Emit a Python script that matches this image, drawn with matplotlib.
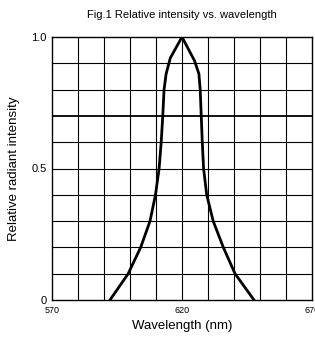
import matplotlib
matplotlib.use("Agg")
import matplotlib.pyplot as plt
import numpy as np

plt.rcParams['font.family'] = ['Liberation Sans', 'DejaVu Sans']

wavelength = [592.3, 599.3, 604.1, 607.7, 609.8, 611.2, 612.0, 612.6, 613.1, 613.9, 615.5, 620.0,
              624.8, 626.5, 627.0, 627.4, 627.8, 628.3, 629.5, 632.0, 635.9, 640.4, 647.7]
intensity = [0.0, 0.1, 0.2, 0.3, 0.4, 0.5, 0.6, 0.7, 0.8, 0.86, 0.92, 1.0,
             0.91, 0.86, 0.8, 0.7, 0.6, 0.5, 0.4, 0.3, 0.2, 0.1, 0.0]
xticks = [570, 620, 670]
yticks = [0, 0.5, 1.0]
ytick_labels = ["0", "0.5", "1.0"]

fig = plt.figure(figsize=(3.15, 3.37), dpi=100)
ax = fig.add_axes([52/315, 37/337, 260/315, 263/337])

for v in np.arange(580, 670, 10):
    ax.axvline(v, color='black', lw=0.8, zorder=1)
for h in np.arange(1, 10):
    ax.axhline(h/10, color='black', lw=1.3 if h == 7 else 0.8, zorder=1)

ax.plot(wavelength, intensity, color='black', lw=2, zorder=3, solid_joinstyle='round')

ax.set_xlim(570, 670)
ax.set_ylim(0, 1.0)
ax.set_xticks(xticks)
ax.set_xticklabels([str(t) for t in xticks], fontsize=6.5)
ax.set_yticks(yticks)
ax.set_yticklabels(ytick_labels, fontsize=8)
ax.tick_params(length=0, pad=4)
for s in ax.spines.values():
    s.set_color('black')
    s.set_linewidth(1)

ax.set_xlabel("Wavelength (nm)", fontsize=9.5, labelpad=4)
ax.set_ylabel("Relative radiant intensity", fontsize=9.5, labelpad=8)
ax.set_title("Fig.1 Relative intensity vs. wavelength", fontsize=8, pad=14)

fig.savefig("out.png", dpi=100)
